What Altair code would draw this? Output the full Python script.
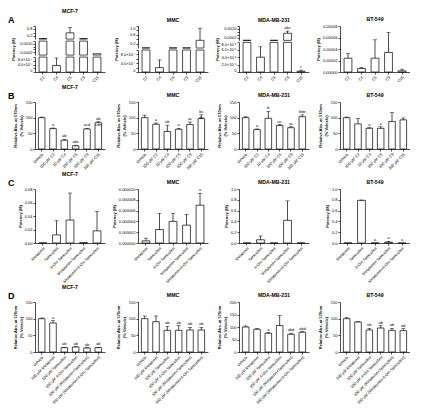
import altair as alt
import pandas as pd

FONT = "Liberation Sans"
FS = 4.0
W = 70

# ---------------- data ----------------
A_CATS = ["C2", "C4", "C5", "C9", "C15"]
A_MCF7_V = [0.03, 3.5e-7, 0.38, 0.03, 1e-4]
A_MCF7_E = [0.005, 4e-7, 0.32, 0.004, 0]
A_MCF7_L = ["", "", "", "", ""]
A_MMC_V = [0.005, 2e-7, 0.005, 0.005, 0.35]
A_MMC_E = [0, 3.5e-7, 0, 0, 0.55]
A_MMC_L = ["", "", "", "", ""]
A_MDA_V = [1.2e-5, 4e-6, 1.2e-5, 5e-4, 2e-7]
A_MDA_E = [0, 2.8e-6, 0, 1.5e-4, 3e-7]
A_MDA_L = ["", "", "", "abc", "c"]
A_BT_V = [2.4e-5, 0.6e-5, 2.4e-5, 3.4e-5, 0.2e-5]
A_BT_E = [0.8e-5, 0.2e-5, 3.2e-5, 3.5e-5, 0.3e-5]
A_BT_L = ["", "", "", "", ""]

B_CATS = ["Vehicle", "100 μM C2", "10 μM C4", "100 μM C5", "100 μM C9", "100 μM C15"]
B_MCF7_V = [100, 65, 28, 10, 64, 84]
B_MCF7_E = [2, 2, 3, 2, 2, 3]
B_MCF7_L = ["", "a", "ab", "abc", "acd", "ab\ncde"]
B_MMC_V = [100, 79, 56, 63, 78, 97]
B_MMC_E = [8, 4, 20, 3, 8, 12]
B_MMC_L = ["", "a", "ab", "a", "ac", "bc\nde"]
B_MDA_V = [100, 62, 98, 75, 68, 103]
B_MDA_E = [3, 2, 22, 3, 3, 6]
B_MDA_L = ["", "a", "b", "ac", "ac", "bde"]
B_BT_V = [100, 80, 66, 66, 88, 93]
B_BT_E = [2, 17, 2, 5, 28, 6]
B_BT_L = ["", "", "a", "a", "", ""]

C_CATS = ["Melatonin", "Tamoxifen", "4-OH-Tamoxifen", "Melatonin+Tamoxifen", "Melatonin+4-OH-Tamoxifen"]
C_MCF7_V = [0, 0.012, 0.034, 0.0005, 0.018]
C_MCF7_E = [0, 0.021, 0.040, 0, 0.029]
C_MCF7_L = ["", "", "", "", ""]
C_MMC_V = [0.4e-6, 2.5e-6, 4.0e-6, 3.3e-6, 7.0e-6]
C_MMC_E = [0.5e-6, 3.0e-6, 1.5e-6, 2.0e-6, 2.2e-6]
C_MMC_L = ["", "", "", "", "a"]
C_MDA_V = [0, 0.06, 0, 0.42, 0]
C_MDA_E = [0, 0.07, 0, 0.36, 0]
C_MDA_L = ["", "", "", "", ""]
C_BT_V = [0, 0.79, 0, 0.015, 0]
C_BT_E = [0, 0.005, 0, 0.015, 0]
C_BT_L = ["", "", "a", "a", "a"]

D_CATS = ["Vehicle", "100 μM Melatonin", "100 μM Tamoxifen", "100 μM 4-OH-Tamoxifen",
          "100 μM (Melatonin+Tamoxifen)", "100 μM (Melatonin+4-OH-Tamoxifen)"]
D_MCF7_V = [100, 87, 13, 15, 12, 13]
D_MCF7_E = [2, 7, 1, 1, 1, 1]
D_MCF7_L = ["", "a", "ab", "ab", "ab", "ab"]
D_MMC_V = [100, 91, 65, 65, 66, 66]
D_MMC_E = [8, 17, 12, 14, 8, 8]
D_MMC_L = ["", "", "ab", "ab", "ab", "ab"]
D_MDA_V = [100, 91, 75, 106, 71, 79]
D_MDA_E = [4, 3, 3, 40, 4, 3]
D_MDA_L = ["", "", "a", "", "abd", "abd"]
D_BT_V = [100, 90, 66, 72, 65, 64]
D_BT_E = [3, 2, 5, 7, 6, 6]
D_BT_L = ["", "", "ab", "ab", "ab", "ab"]

POT = "Potency (M)"
ABS = ["Relative Abs. at 570nm", "(% Vehicle)"]

SCI = ("datum.value == 0 ? '0' : format(datum.value / pow(10, floor(log(datum.value)/LN10 + 1e-6)), '.1f')"
       " + '×10' + (floor(log(datum.value)/LN10 + 1e-6) == -6 ? '⁻⁶' : '⁻⁷')")


def frame(cats, vals, errs, labs):
    return pd.DataFrame({"cat": cats, "v": vals, "e": errs, "lab": labs})


def xenc(cats):
    return alt.X("cat:N", sort=cats, title=None,
                 scale=alt.Scale(paddingInner=0.42, paddingOuter=0.3),
                 axis=alt.Axis(labelAngle=-45, title=None, labelLimit=300))


def letter_layer(letter):
    return alt.Chart(pd.DataFrame({"t": [letter]})).mark_text(
        fontSize=9, fontWeight="bold", font=FONT, align="left",
        baseline="bottom", color="black"
    ).encode(text="t:N", x=alt.value(-27), y=alt.value(-1))


def parts(df, cats, yscale, yaxis, lo=0, hi=1e9, seg=False):
    x = xenc(cats)

    def Y(f):
        return alt.Y(f + ":Q", scale=yscale, axis=yaxis)

    base = alt.Chart(df).transform_calculate(top="datum.v + datum.e")
    cond = f"datum.v >= {lo}" if (seg and lo > 0) else "true"
    bars = base.transform_filter(cond).mark_bar(
        fill="white", stroke="black", strokeWidth=0.7
    ).encode(x=x, y=Y("v"), y2=alt.datum(lo))
    rule = base.transform_filter(f"datum.e > 0 && ({cond}) && datum.v <= {hi}").mark_rule(
        color="black", strokeWidth=0.7
    ).encode(x=x, y=Y("v"), y2="top:Q")
    cap = base.transform_filter(
        f"datum.e > 0 && datum.top >= {lo} && datum.top <= {hi}"
    ).mark_tick(color="black", thickness=0.7, size=4).encode(x=x, y=Y("top"))
    txt = base.transform_filter(
        f"datum.lab != '' && datum.top >= {lo} && datum.top <= {hi}"
    ).mark_text(fontSize=FS, font=FONT, baseline="bottom", dy=-1, lineBreak="\n",
                color="black").encode(x=x, y=Y("top"), text="lab:N")
    return [bars, rule, cap, txt]


def simple(title, cats, v, e, l, domain, ticks, fmt, ytitle, h, letter=None):
    yscale = alt.Scale(domain=domain, nice=False)
    yaxis = alt.Axis(values=ticks, format=fmt, title=ytitle)
    ps = parts(frame(cats, v, e, l), cats, yscale, yaxis)
    if letter:
        ps.append(letter_layer(letter))
    return alt.layer(*ps).properties(width=W, height=h, title=title)


def broken(title, cats, v, e, l, segs, ytitle, h, letter=None, gap=2):
    """segs: top to bottom (lo, hi, weight, ticks, fmt, labelExpr)."""
    df = frame(cats, v, e, l)
    tot_w = sum(s[2] for s in segs)
    avail = h - gap * (len(segs) - 1)
    y0 = 0.0
    groups = []
    for i, (lo, hi, wgt, ticks, fmt, lexpr) in enumerate(segs):
        sh = avail * wgt / tot_w
        rng = [y0 + sh, y0]
        y0 += sh + gap
        bottom = i == len(segs) - 1
        akw = dict(values=ticks, orient="left", labelFlush=True,
                   title=ytitle if bottom else None)
        if bottom:
            akw["titleY"] = h / 2
        if fmt:
            akw["format"] = fmt
        if lexpr:
            akw["labelExpr"] = lexpr
        yscale = alt.Scale(domain=[lo, hi], range=rng, nice=False, zero=False, clamp=True)
        groups.append(alt.layer(*parts(df, cats, yscale, alt.Axis(**akw), lo, hi, seg=True)))
    if letter:
        groups.append(letter_layer(letter))
    return alt.layer(*groups).resolve_scale(y="independent").resolve_axis(
        y="independent").properties(width=W, height=h, title=title)


HA, HB, HC, HD = 46, 47, 54, 50

panels = [
    broken("MCF-7", A_CATS, A_MCF7_V, A_MCF7_E, A_MCF7_L, [
        (1e-3, 0.8, 14, [0.2, 0.4, 0.6, 0.8], ".1f", None),
        (1e-6, 1e-3, 15, [2e-4, 4e-4, 6e-4, 8e-4, 1e-3], ".4f", None),
        (0, 8e-7, 16, [0, 2e-7, 4e-7, 6e-7, 8e-7], None, SCI),
    ], POT, HA, letter="A"),
    broken("MMC", A_CATS, A_MMC_V, A_MMC_E, A_MMC_L, [
        (1e-6, 1.0, 23, [0.2, 0.4, 0.6, 0.8, 1.0], ".1f", None),
        (0, 1e-6, 23, [0, 2e-7, 4e-7, 6e-7, 8e-7, 1e-6], None, SCI),
    ], POT, HA),
    broken("MDA-MB-231", A_CATS, A_MDA_V, A_MDA_E, A_MDA_L, [
        (1e-5, 1e-3, 15, [2e-4, 4e-4, 6e-4, 8e-4, 1e-3], ".4f", None),
        (0, 8e-6, 31, [0, 2e-6, 4e-6, 6e-6, 8e-6], None, SCI),
    ], POT, HA),
    simple("BT-549", A_CATS, A_BT_V, A_BT_E, A_BT_L, [0, 8e-5],
           [0, 2e-5, 4e-5, 6e-5, 8e-5], ".5f", POT, HA),
]

B_T = [0, 50, 100, 150]
panels += [
    simple("MCF-7", B_CATS, B_MCF7_V, B_MCF7_E, B_MCF7_L, [0, 150], B_T, "d", ABS, HB, letter="B"),
    simple("MMC", B_CATS, B_MMC_V, B_MMC_E, B_MMC_L, [0, 150], B_T, "d", ABS, HB),
    simple("MDA-MB-231", B_CATS, B_MDA_V, B_MDA_E, B_MDA_L, [0, 150], B_T, "d", ABS, HB),
    simple("BT-549", B_CATS, B_BT_V, B_BT_E, B_BT_L, [0, 150], B_T, "d", ABS, HB),
    simple("MCF-7", C_CATS, C_MCF7_V, C_MCF7_E, C_MCF7_L, [0, 0.08],
           [0, 0.02, 0.04, 0.06, 0.08], ".2f", POT, HC, letter="C"),
    simple("MMC", C_CATS, C_MMC_V, C_MMC_E, C_MMC_L, [0, 1e-5],
           [0, 2e-6, 4e-6, 6e-6, 8e-6, 1e-5], ".6f", POT, HC),
    simple("MDA-MB-231", C_CATS, C_MDA_V, C_MDA_E, C_MDA_L, [0, 1.0],
           [0, 0.2, 0.4, 0.6, 0.8, 1.0], ".1f", POT, HC),
    simple("BT-549", C_CATS, C_BT_V, C_BT_E, C_BT_L, [0, 1.0],
           [0, 0.2, 0.4, 0.6, 0.8, 1.0], ".1f", POT, HC),
    simple("MCF-7", D_CATS, D_MCF7_V, D_MCF7_E, D_MCF7_L, [0, 150], B_T, "d", ABS, HD, letter="D"),
    simple("MMC", D_CATS, D_MMC_V, D_MMC_E, D_MMC_L, [0, 150], B_T, "d", ABS, HD),
    simple("MDA-MB-231", D_CATS, D_MDA_V, D_MDA_E, D_MDA_L, [0, 200],
           [0, 50, 100, 150, 200], "d", ABS, HD),
    simple("BT-549", D_CATS, D_BT_V, D_BT_E, D_BT_L, [0, 150], B_T, "d", ABS, HD),
]

chart = alt.concat(*panels, columns=4, spacing={"row": 0, "column": 7}).properties(
    padding=0
).configure_view(stroke=None).configure_axis(
    grid=False, domainColor="black", tickColor="black", labelColor="black",
    titleColor="black", labelFont=FONT, titleFont=FONT, labelFontSize=FS,
    titleFontSize=FS, titleFontWeight="bold", tickSize=2, tickWidth=0.7,
    domainWidth=0.7, labelPadding=1, titlePadding=2,
).configure_title(
    font=FONT, fontSize=5.2, fontWeight="bold", color="black", offset=2
).configure_text(font=FONT)

chart.save("out.html", embed_options={"renderer": "svg", "actions": False})
